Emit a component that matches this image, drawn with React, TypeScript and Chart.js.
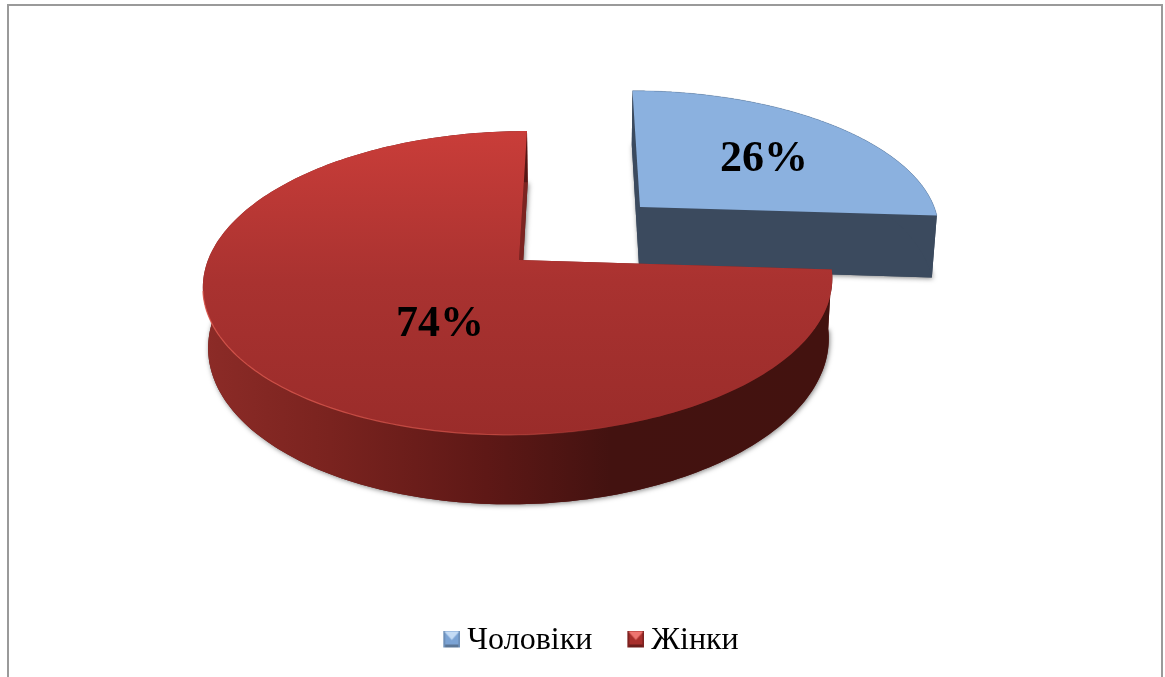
import React, { useEffect, useRef } from "react";
import { Chart, registerables } from "chart.js";

Chart.register(...registerables);

const categories = ["Чоловіки", "Жінки"];
const shares = [26, 74];

const SERIF = '"Liberation Serif", "Times New Roman", serif';

// Perspective view of the pie: vanishing point, lens strength, radius, shrink of the lower rim.
const VIEW = { vx: 580, vy: -723, H: 983, p: 0.151, R: 311, shrink: 0.014 };
// Exploded slice centres in view space, with the height of each slice's wall.
const SLICE_CENTRES = [
  { x: 63.4, w: 1.057, depth: 65 },
  { x: -61, w: 1.0, depth: 59 },
];
const LABEL_XY = [
  { x: 764, y: 160 },
  { x: 440, y: 325 },
];

type P = { x: number; y: number };
type C = { x: number; w: number; depth: number };

function project(a: number, r: number, c: C, low: boolean): P {
  const w = c.w - VIEW.p * r * Math.sin(a);
  const x = (c.x + VIEW.R * r * Math.cos(a)) / w;
  return {
    x: VIEW.vx + x * (low ? 1 - VIEW.shrink : 1),
    y: VIEW.vy + VIEW.H / w + (low ? c.depth / w : 0),
  };
}

function rim(start: number, end: number, c: C, low: boolean): P[] {
  const n = 220;
  const pts: P[] = [];
  for (let i = 0; i <= n; i++) pts.push(project(start + ((end - start) * i) / n, 1, c, low));
  return pts;
}

function trace(ctx: CanvasRenderingContext2D, pts: P[]) {
  ctx.beginPath();
  pts.forEach((p, i) => (i ? ctx.lineTo(p.x, p.y) : ctx.moveTo(p.x, p.y)));
}

function drawSlice(ctx: CanvasRenderingContext2D, i: number, start: number, end: number) {
  const c = SLICE_CENTRES[i];
  const topRim = rim(start, end, c, false);
  const lowRim = rim(start, end, c, true);
  const topApex = project(0, 0, c, false);
  const lowApex = project(0, 0, c, true);

  let wall: CanvasGradient | string;
  let face: string;
  let top: CanvasGradient | string;
  if (i === 0) {
    wall = "#3b4a5e";
    face = "#3b4a5e";
    top = "#8bb1df";
  } else {
    const g = ctx.createLinearGradient(205, 0, 830, 0);
    g.addColorStop(0, "#8c2b27");
    g.addColorStop(0.2, "#7a231f");
    g.addColorStop(0.45, "#5e1816");
    g.addColorStop(0.65, "#431210");
    g.addColorStop(1, "#43120f");
    wall = g;
    face = "#7c2421";
    const t = ctx.createLinearGradient(0, 131, 0, 435);
    t.addColorStop(0, "#c93d39");
    t.addColorStop(0.5, "#a93230");
    t.addColorStop(1, "#9a2c2a");
    top = t;
  }

  // bottom sector, casting the soft shadow
  ctx.save();
  ctx.shadowColor = "rgba(0,0,0,0.5)";
  ctx.shadowBlur = 5;
  ctx.shadowOffsetX = 1;
  ctx.shadowOffsetY = 1;
  trace(ctx, [lowApex, ...lowRim]);
  ctx.closePath();
  ctx.fillStyle = i === 0 ? "#3b4a5e" : "#5e1816";
  ctx.fill();
  ctx.restore();

  // flat cut faces
  ctx.fillStyle = face;
  for (const idx of [0, topRim.length - 1]) {
    trace(ctx, [topApex, topRim[idx], lowRim[idx], lowApex]);
    ctx.closePath();
    ctx.fill();
  }

  // outer wall
  trace(ctx, [...topRim, ...lowRim.slice().reverse()]);
  ctx.closePath();
  ctx.fillStyle = wall;
  ctx.fill();

  // top surface
  trace(ctx, [topApex, ...topRim]);
  ctx.closePath();
  ctx.fillStyle = top;
  ctx.fill();

  // lit edge along the rim
  ctx.save();
  if (i === 1) {
    const e = ctx.createLinearGradient(205, 0, 620, 0);
    e.addColorStop(0, "rgba(222,90,80,0.85)");
    e.addColorStop(0.7, "rgba(222,90,80,0.6)");
    e.addColorStop(1, "rgba(222,90,80,0)");
    ctx.strokeStyle = e;
    ctx.lineWidth = 1.2;
    trace(ctx, topRim.filter((p) => p.y > 290));
  } else {
    ctx.strokeStyle = "rgba(90,125,170,0.35)";
    ctx.lineWidth = 1;
    trace(ctx, topRim);
  }
  ctx.stroke();
  ctx.restore();
}

function legendMarker(base: string, light: string, dark: string, edge: string) {
  const s = 17;
  const cv = document.createElement("canvas");
  cv.width = s + 3;
  cv.height = s + 4;
  const c = cv.getContext("2d")!;
  c.translate(3, 0);
  c.fillStyle = base;
  c.fillRect(0, 0, s, s);
  c.fillStyle = edge;
  c.fillRect(0, s - 3, s, 3);
  c.fillStyle = dark;
  c.fillRect(0, 0, 2, s);
  c.fillRect(s - 2, 0, 2, s);
  c.fillStyle = light;
  c.beginPath();
  c.moveTo(1, 1);
  c.lineTo(s - 1, 1);
  c.lineTo(s / 2, s / 2 + 1);
  c.closePath();
  c.fill();
  return cv;
}

const pseudo3d = {
  id: "pseudo3d",
  beforeDraw(chart: any) {
    const ctx = chart.ctx;
    ctx.save();
    ctx.fillStyle = "#ffffff";
    ctx.fillRect(0, 0, chart.width, chart.height);
    ctx.strokeStyle = "#9a9a9a";
    ctx.lineWidth = 2;
    ctx.beginPath();
    ctx.moveTo(8, 677);
    ctx.lineTo(8, 5);
    ctx.lineTo(1162, 5);
    ctx.lineTo(1162, 677);
    ctx.stroke();
    ctx.restore();
  },
  beforeDatasetsDraw(chart: any) {
    const ctx = chart.ctx;
    const meta = chart.getDatasetMeta(0);
    ctx.save();
    meta.data.forEach((arc: any, i: number) => {
      const { startAngle, endAngle } = arc.getProps(["startAngle", "endAngle"], true);
      drawSlice(ctx, i, startAngle, endAngle);
    });
    const total = shares.reduce((a, b) => a + b, 0);
    ctx.fillStyle = "#000000";
    ctx.font = `bold 44px ${SERIF}`;
    ctx.textAlign = "center";
    ctx.textBaseline = "middle";
    shares.forEach((v, i) => {
      ctx.fillText(`${Math.round((v / total) * 100)}%`, LABEL_XY[i].x, LABEL_XY[i].y);
    });
    ctx.restore();
    return false;
  },
};

export default function App() {
  const ref = useRef<HTMLCanvasElement>(null);
  useEffect(() => {
    if (!ref.current) return;
    const markers = [
      legendMarker("#7ba3d4", "#c5dcf5", "#6d8fb8", "#5b7696"),
      legendMarker("#a82f2c", "#ee7570", "#7e2220", "#6b1c1a"),
    ];
    const chart = new Chart(ref.current, {
      type: "pie",
      data: {
        labels: categories,
        datasets: [{ data: shares, backgroundColor: ["#8bb1df", "#a93230"], borderWidth: 0 }],
      },
      options: {
        responsive: false,
        animation: false,
        events: [],
        layout: { padding: { left: 23, bottom: 10 } },
        plugins: {
          tooltip: { enabled: false },
          legend: {
            display: true,
            position: "bottom",
            labels: {
              usePointStyle: true,
              boxWidth: 2,
              boxHeight: 2,
              padding: 41,
              color: "#000000",
              font: { family: SERIF, size: 32 },
              generateLabels: () =>
                categories.map((text, i) => ({
                  text,
                  pointStyle: markers[i],
                  fontColor: "#000000",
                  datasetIndex: 0,
                  index: i,
                  hidden: false,
                  lineWidth: 0,
                })),
            },
          },
        },
      },
      plugins: [pseudo3d],
    } as any);
    return () => chart.destroy();
  }, []);
  return (
    <div style={{ position: "fixed", left: 0, top: 0, width: 1165, height: 677, background: "#fff" }}>
      <canvas ref={ref} width={1165} height={677} style={{ display: "block" }} />
    </div>
  );
}
